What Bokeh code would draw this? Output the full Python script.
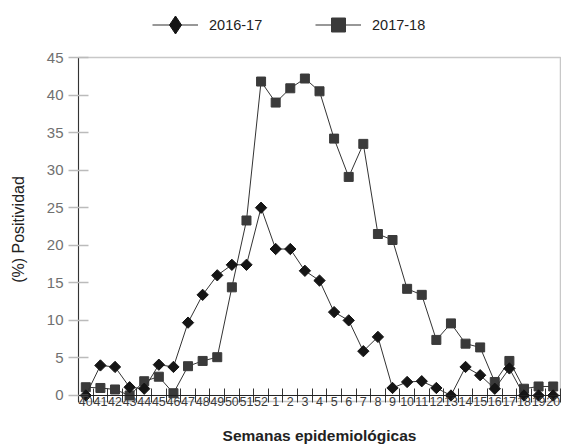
import math
from bokeh.plotting import figure
from bokeh.layouts import column
from bokeh.models import Range1d, FixedTicker, Legend, LegendItem, Span
from bokeh.embed import file_html
from bokeh.resources import INLINE

weeks = ["40", "41", "42", "43", "44", "45", "46", "47", "48", "49", "50", "51", "52",
         "1", "2", "3", "4", "5", "6", "7", "8", "9", "10", "11", "12", "13", "14",
         "15", "16", "17", "18", "19", "20"]
s2016 = [0, 4.0, 3.8, 1.1, 0.9, 4.1, 3.8, 9.7, 13.4, 16.0, 17.4, 17.4, 25.0,
         19.5, 19.5, 16.6, 15.3, 11.1, 10.0, 5.9, 7.8, 1.0, 1.8, 1.9, 1.0, 0,
         3.8, 2.7, 0.9, 3.6, 0, 0, 0]
s2017 = [1.1, 1.0, 0.8, 0, 1.9, 2.5, 0.3, 3.9, 4.6, 5.1, 14.4, 23.3, 41.8,
         39.0, 40.9, 42.2, 40.5, 34.2, 29.1, 33.5, 21.5, 20.7, 14.2, 13.4, 7.4,
         9.6, 6.9, 6.4, 1.8, 4.6, 0.9, 1.2, 1.2]
y_ticks = [0, 5, 10, 15, 20, 25, 30, 35, 40, 45]
labels = ["2016-17", "2017-18"]

LINE = "#333333"
C16 = "#151515"
C17 = "#3a3a3a"

x = list(range(len(weeks)))

# ---------------- legend strip (its renderers sit outside its own view) ----------------
lg = figure(width=561, height=47, output_backend="svg", toolbar_location=None,
            x_range=Range1d(0, 1), y_range=Range1d(-300, -299),
            x_axis_type=None, y_axis_type=None,
            min_border_left=78, min_border_right=1, min_border_top=0,
            min_border_bottom=0)
lg.outline_line_color = None
lg.xgrid.visible = False
lg.ygrid.visible = False
la = lg.line(x, s2016, line_color=LINE, line_width=1.2)
ma = lg.scatter(x, s2016, marker="diamond", fill_color=C16, line_color=C16)
lb = lg.line(x, s2017, line_color=LINE, line_width=1.2)
mb = lg.scatter(x, s2017, marker="square", fill_color=C17, line_color=C17)
common = dict(orientation="horizontal", glyph_width=46, label_standoff=11,
              padding=0, margin=0, border_line_alpha=0, background_fill_alpha=0,
              label_text_font="Liberation Sans", label_text_font_size="14.5px",
              label_text_color="#222222")
leg_a = Legend(items=[LegendItem(label=labels[0], renderers=[la, ma])],
               location=(74, 0), glyph_height=45, label_height=45, **common)
leg_b = Legend(items=[LegendItem(label=labels[1], renderers=[lb, mb])],
               location=(237, 5), glyph_height=35, label_height=35, **common)
lg.add_layout(leg_a, "center")
lg.add_layout(leg_b, "center")

# ---------------- main chart ----------------
p = figure(width=561, height=399, output_backend="svg", toolbar_location=None,
           x_range=Range1d(-0.5, len(weeks) - 0.5), y_range=Range1d(-0.8, 45),
           min_border_left=78, min_border_right=1, min_border_top=10,
           min_border_bottom=44)
p.xgrid.visible = False
p.ygrid.visible = False
p.outline_line_color = "#c8c8c8"
p.outline_line_width = 1.5
p.background_fill_color = "white"
p.border_fill_color = "white"

ya = p.yaxis[0]
ya.ticker = FixedTicker(ticks=y_ticks, minor_ticks=[])
ya.major_tick_in = 10
ya.major_tick_out = 10
ya.major_tick_line_color = "#bbbbbb"
ya.major_tick_line_width = 1.5
ya.minor_tick_line_color = None
ya.axis_line_color = "#333333"
ya.major_label_text_color = "#707070"
ya.major_label_text_font = "Liberation Sans"
ya.major_label_text_font_size = "15px"
ya.major_label_standoff = 5
ya.axis_label = "(%) Positividad"
ya.axis_label_text_font = "Liberation Sans"
ya.axis_label_text_font_style = "normal"
ya.axis_label_text_font_size = "16px"
ya.axis_label_text_color = "#222222"
ya.axis_label_standoff = 17

xa = p.xaxis[0]
xa.ticker = FixedTicker(ticks=x, minor_ticks=[i - 0.5 for i in range(len(weeks) + 1)])
xa.major_label_overrides = {i: w for i, w in enumerate(weeks)}
xa.major_tick_in = 0
xa.major_tick_out = 0
xa.minor_tick_in = 13
xa.minor_tick_out = 1
xa.minor_tick_line_color = "#333333"
xa.axis_line_color = None
xa.major_label_standoff = -6
xa.major_label_text_font = "Liberation Sans"
xa.major_label_text_font_size = "12.5px"
xa.major_label_text_color = "#3a3a3a"
xa.axis_label = "Semanas epidemiológicas"
xa.axis_label_text_font = "Liberation Sans"
xa.axis_label_text_font_style = "bold"
xa.axis_label_text_font_size = "15.5px"
xa.axis_label_text_color = "#222222"
xa.axis_label_standoff = 18

p.add_layout(Span(location=0, dimension="width", line_color="#222222", line_width=1))

p.line(x, s2017, line_color=LINE, line_width=1)
p.scatter(x, s2017, marker="square", size=9, fill_color=C17, line_color=C17)
p.line(x, s2016, line_color=LINE, line_width=1)
p.scatter(x, s2016, marker="square", angle=math.pi / 4, size=8,
          fill_color=C16, line_color=C16)

layout = column(lg, p, spacing=0)
open("out.html", "w").write(file_html(layout, INLINE))
